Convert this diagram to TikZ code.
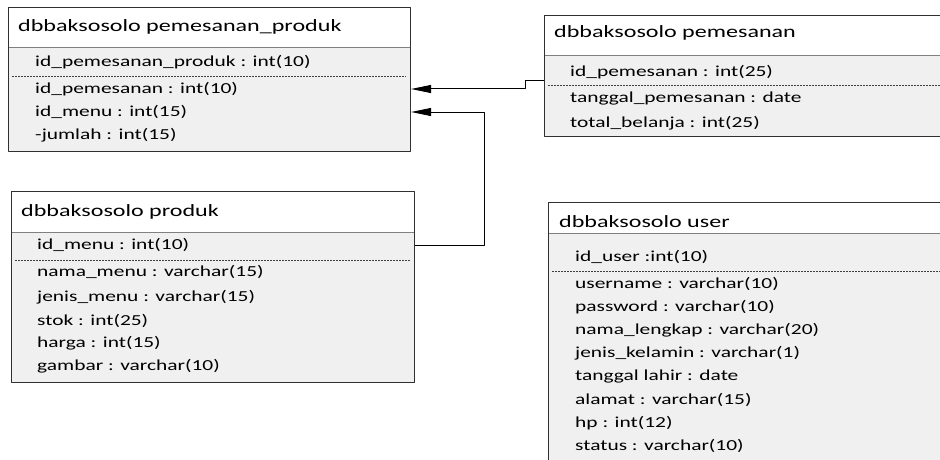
\documentclass[tikz,border=0pt]{standalone}
\usepackage{fontspec}
\setmainfont[FakeStretch=1.4]{Carlito}
\usetikzlibrary{arrows.meta,calc}
\definecolor{isi}{HTML}{F0F0F0}
\definecolor{garis}{HTML}{303030}
\begin{document}
\begin{tikzpicture}[x=1pt, y=-1pt, line join=round, >={Triangle[length=20pt,width=8pt]},
	tabel/.style={draw=garis, line width=1.1pt, anchor=north west, inner sep=0pt},
	judul/.style={anchor=west, inner sep=0pt, font=\fontsize{17.2}{20}\selectfont},
	baris/.style={anchor=west, inner sep=0pt, font=\fontsize{15.3}{18}\selectfont},
	putus/.style={dash pattern=on 2pt off 1pt, line width=0.8pt, black!75},
	hubung/.style={->, line width=1pt, black}]
	%Bingkai gambar.
	\useasboundingbox (0,0) rectangle (940,460);
	\clip (0,0) rectangle (940,460);
	%Tabel pemesanan_produk.
	\fill[isi] (8,7) rectangle (410,151);
	\fill[white] (8,7) rectangle (410,47);
	\draw[gray] (8,47) -- (410,47);
	\draw[putus] (12,76) -- (406,76);
	\node[tabel, minimum width=402pt, minimum height=144pt] (pp) at (8,7) {};
	\node[judul] (ppj) at (18,27) {dbbaksosolo pemesanan\_produk};
	\node[baris] (pp1) at (35,62) {id\_pemesanan\_produk : int(10)};
	\node[baris] (pp2) at (35,89) {id\_pemesanan : int(10)};
	\node[baris] (pp3) at (35,112) {id\_menu : int(15)};
	\node[baris] (pp4) at (35,135) {-jumlah : int(15)};
	%Tabel pemesanan.
	\fill[isi] (544,15) rectangle (950,136);
	\fill[white] (544,15) rectangle (950,55);
	\draw[gray] (544,55) -- (950,55);
	\draw[putus] (548,85) -- (950,85);
	\node[tabel, minimum width=406pt, minimum height=121pt] (pm) at (544,15) {};
	\node[judul] (pmj) at (554,33) {dbbaksosolo pemesanan};
	\node[baris] (pm1) at (570,72) {id\_pemesanan : int(25)};
	\node[baris] (pm2) at (570,99) {tanggal\_pemesanan : date};
	\node[baris] (pm3) at (570,123) {total\_belanja : int(25)};
	%Tabel produk.
	\fill[isi] (11,191) rectangle (414,382);
	\fill[white] (11,191) rectangle (414,232);
	\draw[gray] (11,232) -- (414,232);
	\draw[putus] (15,260) -- (410,260);
	\node[tabel, minimum width=403pt, minimum height=191pt] (pr) at (11,191) {};
	\node[judul] (prj) at (21,212) {dbbaksosolo produk};
	\node[baris] (pr1) at (37,245) {id\_menu : int(10)};
	\node[baris] (pr2) at (37,272) {nama\_menu : varchar(15)};
	\node[baris] (pr3) at (37,297) {jenis\_menu : varchar(15)};
	\node[baris] (pr4) at (37,321) {stok : int(25)};
	\node[baris] (pr5) at (37,343) {harga : int(15)};
	\node[baris] (pr6) at (37,366) {gambar : varchar(10)};
	%Tabel user.
	\fill[isi] (548,202) rectangle (950,470);
	\fill[white] (548,202) rectangle (950,233);
	\draw[gray] (548,233) -- (950,233);
	\draw[putus] (552,271) -- (950,271);
	\node[tabel, minimum width=402pt, minimum height=268pt] (us) at (548,202) {};
	\node[judul] (usj) at (559,222) {dbbaksosolo user};
	\node[baris] (us1) at (575,257) {id\_user :int(10)};
	\node[baris] (us2) at (575,284) {username : varchar(10)};
	\node[baris] (us3) at (575,307) {password : varchar(10)};
	\node[baris] (us4) at (575,330) {nama\_lengkap : varchar(20)};
	\node[baris] (us5) at (575,353) {jenis\_kelamin : varchar(1)};
	\node[baris] (us6) at (575,377) {tanggal lahir : date};
	\node[baris] (us7) at (575,400) {alamat : varchar(15)};
	\node[baris] (us8) at (575,423) {hp : int(12)};
	\node[baris] (us9) at (575,446) {status : varchar(10)};
	%Relasi.
	\draw[hubung] ($(pm1 -| pm.west)+(0,9)$) -- ++(-19,0) |- (pp2 -| pp.east);
	\draw[hubung] (pr1 -| pr.east) -- ++(69,0) |- (pp3 -| pp.east);
\end{tikzpicture}
\end{document}
